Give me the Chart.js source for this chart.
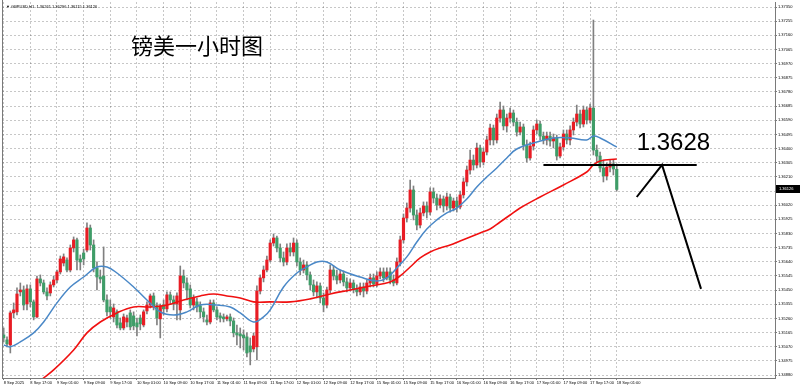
<!DOCTYPE html>
<html>
<head>
<meta charset="utf-8">
<script src="https://cdn.jsdelivr.net/npm/chart.js@4.4.0/dist/chart.umd.min.js"></script>
<style>
  html, body { margin: 0; padding: 0; background: #fff; }
</style>
</head>
<body>
<canvas id="fxChart" width="800" height="388"></canvas>
<script>
// GBPUSD H1 candles, oldest first (8 Sep 09:00 -> 18 Sep 01:00)
const opens = [
  1.35149, 1.35116, 1.35082, 1.35297, 1.35304, 1.35438, 1.35451, 1.35357, 1.35458, 1.35371,
  1.35270, 1.35525, 1.35498, 1.35438, 1.35431, 1.35485, 1.35518, 1.35572, 1.35632, 1.35652,
  1.35585, 1.35733, 1.35787, 1.35659, 1.35699, 1.35719, 1.35867, 1.35753, 1.35599, 1.35538,
  1.35545, 1.35384, 1.35337, 1.35270, 1.35304, 1.35230, 1.35196, 1.35236, 1.35297, 1.35277,
  1.35230, 1.35263, 1.35216, 1.35310, 1.35350, 1.35411, 1.35344, 1.35257, 1.35350, 1.35324,
  1.35418, 1.35384, 1.35357, 1.35317, 1.35545, 1.35498, 1.35458, 1.35350, 1.35371, 1.35344,
  1.35304, 1.35250, 1.35236, 1.35364, 1.35317, 1.35277, 1.35270, 1.35257, 1.35270, 1.35243,
  1.35163, 1.35156, 1.35149, 1.35136, 1.35075, 1.35055, 1.35069, 1.35444, 1.35532, 1.35585,
  1.35652, 1.35766, 1.35800, 1.35733, 1.35666, 1.35639, 1.35733, 1.35706, 1.35766, 1.35639,
  1.35585, 1.35619, 1.35552, 1.35485, 1.35438, 1.35478, 1.35397, 1.35350, 1.35451, 1.35585,
  1.35545, 1.35518, 1.35558, 1.35505, 1.35465, 1.35498, 1.35458, 1.35438, 1.35471, 1.35444,
  1.35498, 1.35532, 1.35491, 1.35545, 1.35572, 1.35532, 1.35572, 1.35518, 1.35498, 1.35639,
  1.35787, 1.35934, 1.36001, 1.36122, 1.35954, 1.35887, 1.35968, 1.36015, 1.35974, 1.36109,
  1.36068, 1.36021, 1.36062, 1.36015, 1.36075, 1.36001, 1.36048, 1.36008, 1.36089, 1.36176,
  1.36256, 1.36323, 1.36290, 1.36404, 1.36310, 1.36377, 1.36458, 1.36538, 1.36458, 1.36605,
  1.36659, 1.36552, 1.36605, 1.36639, 1.36578, 1.36511, 1.36545, 1.36424, 1.36337, 1.36417,
  1.36525, 1.36565, 1.36484, 1.36458, 1.36484, 1.36451, 1.36471, 1.36350, 1.36411, 1.36498,
  1.36458, 1.36525, 1.36578, 1.36632, 1.36565, 1.36659, 1.36592, 1.36672, 1.36390, 1.36350,
  1.36270, 1.36216, 1.36276, 1.36297, 1.36261
];
const highs = [
  1.35196, 1.35136, 1.35310, 1.35364, 1.35465, 1.35498, 1.35478, 1.35485, 1.35485, 1.35384,
  1.35545, 1.35552, 1.35518, 1.35465, 1.35505, 1.35545, 1.35585, 1.35679, 1.35693, 1.35666,
  1.35753, 1.35807, 1.35800, 1.35686, 1.35726, 1.35901, 1.35887, 1.35787, 1.35639, 1.35585,
  1.35740, 1.35418, 1.35384, 1.35357, 1.35317, 1.35263, 1.35290, 1.35283, 1.35317, 1.35304,
  1.35263, 1.35283, 1.35317, 1.35371, 1.35424, 1.35431, 1.35364, 1.35357, 1.35384, 1.35438,
  1.35438, 1.35411, 1.35431, 1.35612, 1.35585, 1.35532, 1.35485, 1.35418, 1.35397, 1.35371,
  1.35330, 1.35283, 1.35384, 1.35384, 1.35337, 1.35297, 1.35290, 1.35283, 1.35290, 1.35263,
  1.35216, 1.35196, 1.35183, 1.35163, 1.35129, 1.35163, 1.35478, 1.35552, 1.35612, 1.35679,
  1.35787, 1.35827, 1.35813, 1.35760, 1.35706, 1.35760, 1.35766, 1.35800, 1.35787, 1.35666,
  1.35652, 1.35639, 1.35572, 1.35518, 1.35505, 1.35498, 1.35431, 1.35471, 1.35619, 1.35612,
  1.35585, 1.35585, 1.35579, 1.35532, 1.35525, 1.35518, 1.35485, 1.35498, 1.35498, 1.35518,
  1.35558, 1.35558, 1.35572, 1.35599, 1.35599, 1.35599, 1.35599, 1.35552, 1.35666, 1.35813,
  1.35961, 1.36035, 1.36189, 1.36149, 1.35988, 1.36001, 1.36042, 1.36042, 1.36136, 1.36136,
  1.36095, 1.36089, 1.36082, 1.36102, 1.36095, 1.36068, 1.36075, 1.36115, 1.36203, 1.36283,
  1.36390, 1.36357, 1.36437, 1.36424, 1.36404, 1.36484, 1.36565, 1.36558, 1.36632, 1.36713,
  1.36686, 1.36632, 1.36672, 1.36659, 1.36605, 1.36578, 1.36565, 1.36458, 1.36444, 1.36552,
  1.36592, 1.36585, 1.36511, 1.36511, 1.36511, 1.36498, 1.36491, 1.36437, 1.36525, 1.36525,
  1.36552, 1.36605, 1.36692, 1.36659, 1.36686, 1.36679, 1.36699, 1.37263, 1.36424, 1.36377,
  1.36323, 1.36303, 1.36323, 1.36323, 1.36296
];
const lows = [
  1.35102, 1.35069, 1.35028, 1.35263, 1.35283, 1.35411, 1.35317, 1.35317, 1.35337, 1.35250,
  1.35263, 1.35478, 1.35424, 1.35384, 1.35411, 1.35471, 1.35498, 1.35558, 1.35612, 1.35572,
  1.35572, 1.35706, 1.35585, 1.35585, 1.35619, 1.35706, 1.35719, 1.35572, 1.35451, 1.35498,
  1.35371, 1.35277, 1.35263, 1.35236, 1.35196, 1.35183, 1.35183, 1.35203, 1.35183, 1.35183,
  1.35142, 1.35183, 1.35203, 1.35290, 1.35330, 1.35317, 1.35216, 1.35129, 1.35283, 1.35304,
  1.35357, 1.35317, 1.35250, 1.35250, 1.35465, 1.35384, 1.35330, 1.35317, 1.35304, 1.35263,
  1.35236, 1.35216, 1.35223, 1.35304, 1.35250, 1.35236, 1.35236, 1.35243, 1.35210, 1.35136,
  1.35082, 1.35062, 1.35048, 1.35002, 1.34948, 1.35035, 1.34981, 1.35424, 1.35505, 1.35572,
  1.35639, 1.35746, 1.35706, 1.35639, 1.35612, 1.35619, 1.35679, 1.35679, 1.35612, 1.35552,
  1.35565, 1.35518, 1.35451, 1.35411, 1.35397, 1.35364, 1.35304, 1.35330, 1.35431, 1.35518,
  1.35491, 1.35498, 1.35478, 1.35438, 1.35444, 1.35431, 1.35411, 1.35418, 1.35404, 1.35424,
  1.35471, 1.35471, 1.35471, 1.35525, 1.35505, 1.35518, 1.35491, 1.35478, 1.35485, 1.35612,
  1.35766, 1.35907, 1.35974, 1.35921, 1.35854, 1.35867, 1.35948, 1.35934, 1.35954, 1.36035,
  1.35988, 1.36001, 1.35974, 1.35988, 1.35974, 1.35981, 1.35974, 1.35995, 1.36068, 1.36149,
  1.36229, 1.36256, 1.36270, 1.36276, 1.36290, 1.36357, 1.36424, 1.36424, 1.36437, 1.36578,
  1.36525, 1.36511, 1.36578, 1.36552, 1.36484, 1.36491, 1.36390, 1.36310, 1.36323, 1.36390,
  1.36498, 1.36458, 1.36431, 1.36424, 1.36417, 1.36404, 1.36323, 1.36337, 1.36390, 1.36431,
  1.36424, 1.36491, 1.36552, 1.36538, 1.36545, 1.36565, 1.36572, 1.36357, 1.36310, 1.36243,
  1.36176, 1.36189, 1.36243, 1.36223, 1.36115
];
const closes = [
  1.35129, 1.35089, 1.35297, 1.35317, 1.35424, 1.35451, 1.35350, 1.35458, 1.35371, 1.35270,
  1.35525, 1.35498, 1.35438, 1.35411, 1.35485, 1.35518, 1.35572, 1.35659, 1.35673, 1.35585,
  1.35733, 1.35787, 1.35652, 1.35639, 1.35659, 1.35867, 1.35753, 1.35599, 1.35538, 1.35525,
  1.35384, 1.35304, 1.35304, 1.35330, 1.35216, 1.35196, 1.35270, 1.35263, 1.35203, 1.35210,
  1.35203, 1.35223, 1.35304, 1.35350, 1.35411, 1.35344, 1.35263, 1.35344, 1.35324, 1.35418,
  1.35384, 1.35357, 1.35411, 1.35545, 1.35498, 1.35451, 1.35350, 1.35397, 1.35337, 1.35304,
  1.35270, 1.35236, 1.35364, 1.35317, 1.35270, 1.35263, 1.35257, 1.35270, 1.35243, 1.35163,
  1.35149, 1.35142, 1.35129, 1.35028, 1.35035, 1.35142, 1.35444, 1.35532, 1.35585, 1.35652,
  1.35766, 1.35800, 1.35733, 1.35666, 1.35639, 1.35733, 1.35706, 1.35766, 1.35639, 1.35585,
  1.35619, 1.35552, 1.35485, 1.35438, 1.35478, 1.35397, 1.35350, 1.35451, 1.35585, 1.35545,
  1.35518, 1.35558, 1.35505, 1.35465, 1.35498, 1.35458, 1.35438, 1.35471, 1.35444, 1.35498,
  1.35532, 1.35491, 1.35545, 1.35572, 1.35532, 1.35572, 1.35518, 1.35498, 1.35639, 1.35787,
  1.35934, 1.36001, 1.36122, 1.35954, 1.35887, 1.35968, 1.36015, 1.35974, 1.36109, 1.36068,
  1.36021, 1.36062, 1.36015, 1.36075, 1.36001, 1.36048, 1.36008, 1.36089, 1.36176, 1.36256,
  1.36323, 1.36290, 1.36404, 1.36310, 1.36377, 1.36458, 1.36538, 1.36458, 1.36605, 1.36659,
  1.36552, 1.36605, 1.36639, 1.36578, 1.36511, 1.36545, 1.36424, 1.36337, 1.36417, 1.36525,
  1.36565, 1.36484, 1.36458, 1.36484, 1.36451, 1.36471, 1.36350, 1.36411, 1.36498, 1.36458,
  1.36525, 1.36578, 1.36632, 1.36565, 1.36659, 1.36592, 1.36672, 1.36390, 1.36350, 1.36270,
  1.36216, 1.36276, 1.36297, 1.36263, 1.36126
];

// moving averages at a few bar positions
const blueIdx = [0, 2, 5, 9, 12, 16, 20, 24, 28, 31, 34, 39, 43, 47, 51, 55, 59, 64, 68, 71,
  75, 78, 80, 84, 88, 91, 94, 97, 101, 107, 112, 115, 118, 121, 124, 127, 130, 133, 136, 139,
  142, 145, 148, 151, 154, 160, 165, 170, 175, 177, 179, 184];
const blueMA = [1.35082, 1.35069, 1.35102, 1.35163, 1.35236, 1.35364, 1.35471, 1.35538, 1.35605, 1.35605,
  1.35565, 1.35471, 1.35384, 1.35304, 1.35283, 1.35304, 1.35350, 1.35350, 1.35337, 1.35297,
  1.35236, 1.35270, 1.35317, 1.35471, 1.35565, 1.35605, 1.35639, 1.35639, 1.35585, 1.35538,
  1.35511, 1.35532, 1.35599, 1.35673, 1.35773, 1.35860, 1.35921, 1.35968, 1.36001, 1.36062,
  1.36142, 1.36209, 1.36270, 1.36337, 1.36397, 1.36444, 1.36471, 1.36471, 1.36458, 1.36484,
  1.36471, 1.36411];
const redIdx = [5, 10, 15, 21, 25, 29, 34, 39, 44, 49, 54, 59, 63, 67, 71, 75, 80, 86, 92, 98,
  104, 110, 116, 119, 122, 125, 128, 131, 134, 137, 140, 143, 146, 149, 152, 155, 161, 168, 175, 177,
  179, 184];
const redMA = [1.34679, 1.34820, 1.34914, 1.35048, 1.35163, 1.35236, 1.35297, 1.35337, 1.35337, 1.35350,
  1.35384, 1.35411, 1.35424, 1.35411, 1.35397, 1.35371, 1.35371, 1.35371, 1.35391, 1.35424,
  1.35451, 1.35478, 1.35505, 1.35545, 1.35605, 1.35666, 1.35706, 1.35733, 1.35753, 1.35780,
  1.35807, 1.35834, 1.35860, 1.35907, 1.35954, 1.36001, 1.36075, 1.36156, 1.36243, 1.36290,
  1.36317, 1.36330];

// time axis labels, one every 8 bars
const timeLabels = ['8 Sep 2025', '8 Sep 17:00', '9 Sep 01:00', '9 Sep 09:00', '9 Sep 17:00',
  '10 Sep 01:00', '10 Sep 09:00', '10 Sep 17:00', '11 Sep 01:00', '11 Sep 09:00', '11 Sep 17:00',
  '12 Sep 01:00', '12 Sep 09:00', '12 Sep 17:00', '15 Sep 01:00', '15 Sep 09:00', '15 Sep 17:00',
  '16 Sep 01:00', '16 Sep 09:00', '16 Sep 17:00', '17 Sep 01:00', '17 Sep 09:00', '17 Sep 17:00',
  '18 Sep 01:00'];
const priceTicks = [1.37350, 1.37255, 1.37160, 1.37065, 1.36970, 1.36875, 1.36780, 1.36685, 1.36590,
  1.36495, 1.36400, 1.36305, 1.36210, 1.36115, 1.36020, 1.35925, 1.35830, 1.35735, 1.35640,
  1.35545, 1.35450, 1.35355, 1.35260, 1.35165, 1.35070, 1.34975, 1.34880];

// hand drawn marks on the chart (bar index, price)
const levelLine = { from: 162, to: 208, price: 1.36290, label: '1.3628' };
const arrowX = [190, 197.6, 209.3];
const arrowY = [1.36075, 1.36290, 1.35458];

const UP = '#e81c24';
const DOWN = '#3f9d68';
const WICK = '#808080';
const AXIS = '#7a7a7a';

const wickData = opens.map((o, i) => ({ x: i, y: [lows[i], highs[i]] }));
const bodyData = opens.map((o, i) => ({ x: i, y: [o, closes[i]] }));
const bodyColors = opens.map((o, i) => closes[i] >= o ? UP : DOWN);

// no label overhang padding, so the plot area is exactly the box we ask for
function noPadding(scale) {
  scale.paddingLeft = 0;
  scale.paddingRight = 0;
  scale.paddingTop = 0;
  scale.paddingBottom = 0;
}

const overlay = {
  id: 'overlay',
  afterDraw(chart) {
    const ctx = chart.ctx;
    const xs = chart.scales.x, ys = chart.scales.y;
    const area = chart.chartArea;
    ctx.save();

    // left frame line
    ctx.strokeStyle = AXIS;
    ctx.lineWidth = 1;
    ctx.beginPath();
    ctx.moveTo(area.left + 0.5, 0);
    ctx.lineTo(area.left + 0.5, area.bottom);
    ctx.stroke();

    // symbol header
    ctx.fillStyle = '#000';
    ctx.font = '4px "Liberation Sans"';
    ctx.textBaseline = 'middle';
    ctx.textAlign = 'left';
    ctx.fillText('\u25BC GBPUSD,H1  1.36261 1.36296 1.36115 1.36126', 6, 7);

    // title
    ctx.font = '22px "Noto Sans CJK SC"';
    ctx.fillText('镑美一小时图', 131, 46);

    // level line and drawn arrow
    ctx.strokeStyle = '#000';
    ctx.lineWidth = 2;
    ctx.beginPath();
    const ly = ys.getPixelForValue(levelLine.price);
    ctx.moveTo(xs.getPixelForValue(levelLine.from), ly);
    ctx.lineTo(xs.getPixelForValue(levelLine.to), ly);
    ctx.stroke();
    ctx.beginPath();
    arrowX.forEach((v, k) => {
      const px = xs.getPixelForValue(v), py = ys.getPixelForValue(arrowY[k]);
      if (k === 0) ctx.moveTo(px, py); else ctx.lineTo(px, py);
    });
    ctx.stroke();

    ctx.font = '24px "Liberation Sans"';
    ctx.fillText(levelLine.label, xs.getPixelForValue(190), ys.getPixelForValue(1.36437));

    // current price tag
    const last = closes[closes.length - 1];
    const cy = Math.round(ys.getPixelForValue(last));
    ctx.fillStyle = '#000';
    ctx.fillRect(area.right + 1, cy - 4, 24, 8);
    ctx.fillStyle = '#fff';
    ctx.font = '4px "Liberation Sans"';
    ctx.fillText(last.toFixed(5), area.right + 4, cy);
    ctx.restore();
  }
};

const ctx = document.getElementById('fxChart').getContext('2d');
const fxChart = new Chart(ctx, {
  data: {
    datasets: [
      {
        type: 'line',
        data: blueIdx.map((x, k) => ({ x: x, y: blueMA[k] })),
        borderColor: '#4a88c7',
        borderWidth: 1.5,
        pointRadius: 0,
        tension: 0.4,
        order: 1
      },
      {
        type: 'line',
        data: redIdx.map((x, k) => ({ x: x, y: redMA[k] })),
        borderColor: '#f01010',
        borderWidth: 1.6,
        pointRadius: 0,
        tension: 0.4,
        order: 1
      },
      {
        type: 'bar',
        data: bodyData,
        backgroundColor: bodyColors,
        barThickness: 2.5,
        minBarLength: 1,
        grouped: false,
        order: 2
      },
      {
        type: 'bar',
        data: wickData,
        backgroundColor: WICK,
        barThickness: 1,
        grouped: false,
        order: 3
      }
    ]
  },
  options: {
    responsive: false,
    animation: false,
    layout: { padding: { left: 2, top: 2, right: 0, bottom: 0 } },
    plugins: {
      legend: { display: false },
      tooltip: { enabled: false }
    },
    scales: {
      x: {
        type: 'linear',
        offset: false,
        min: -0.5,
        max: 231.5,
        afterBuildTicks: function(scale) {
          scale.ticks = timeLabels.map((t, k) => ({ value: k * 8 }));
        },
        afterFit: function(scale) { scale.height = 10; noPadding(scale); },
        ticks: {
          autoSkip: false,
          maxRotation: 0,
          align: 'start',
          padding: 0,
          color: '#000',
          font: { family: 'Liberation Sans', size: 4 },
          callback: function(value) { return timeLabels[value / 8]; }
        },
        grid: { offset: false, color: 'rgba(0,0,0,0.22)', tickLength: 2, tickColor: AXIS },
        border: { color: AXIS, dash: [2, 2] }
      },
      y: {
        position: 'right',
        min: 1.34860,
        max: 1.37384,
        afterBuildTicks: function(scale) {
          scale.ticks = priceTicks.map(v => ({ value: v }));
        },
        afterFit: function(scale) { scale.width = 25; noPadding(scale); },
        ticks: {
          autoSkip: false,
          padding: 1,
          color: '#000',
          font: { family: 'Liberation Sans', size: 4 },
          callback: function(value) { return value.toFixed(5); }
        },
        grid: { color: 'rgba(0,0,0,0.22)', tickLength: 2, tickColor: AXIS },
        border: { color: AXIS, dash: [2, 2] }
      }
    }
  },
  plugins: [overlay]
});
</script>
</body>
</html>
